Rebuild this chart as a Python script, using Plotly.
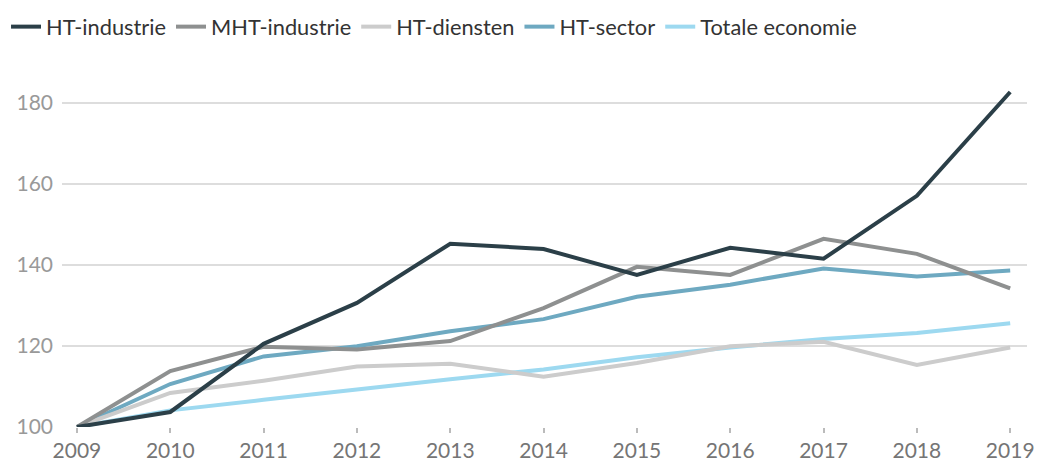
import plotly.graph_objects as go

years = [2009, 2010, 2011, 2012, 2013, 2014, 2015, 2016, 2017, 2018, 2019]
ht_industrie = [100, 103.7, 120.5, 130.6, 145.2, 143.9, 137.5, 144.2, 141.5, 157.0, 182.6]
mht_industrie = [100, 113.8, 119.8, 119.1, 121.2, 129.3, 139.5, 137.5, 146.4, 142.7, 134.2]
ht_diensten = [100, 108.4, 111.4, 114.9, 115.6, 112.4, 115.8, 119.9, 121.0, 115.3, 119.6]
ht_sector = [100, 110.6, 117.4, 119.9, 123.6, 126.6, 132.1, 135.1, 139.1, 137.1, 138.6]
totale_economie = [100, 104.1, 106.7, 109.3, 111.8, 114.2, 117.2, 119.6, 121.7, 123.2, 125.6]

series_names = ["HT-industrie", "MHT-industrie", "HT-diensten", "HT-sector", "Totale economie"]
series_values = [ht_industrie, mht_industrie, ht_diensten, ht_sector, totale_economie]
colors = ["#2b3f48", "#8e9090", "#cccccc", "#6ea9c1", "#9dd9f0"]
y_ticks = [100, 120, 140, 160, 180]

fig = go.Figure()
for name, vals, col in reversed(list(zip(series_names, series_values, colors))):
    fig.add_trace(go.Scatter(x=years, y=vals, name=name, mode="lines",
                             line=dict(color=col, width=4), cliponaxis=False))

fig.update_layout(
    width=1037, height=467,
    margin=dict(l=62, r=10, t=62, b=40, autoexpand=False),
    paper_bgcolor="white", plot_bgcolor="white",
    font=dict(family="Lato", size=21, color="#333333"),
    showlegend=True,
    legend=dict(orientation="h", x=-0.058, xanchor="left", y=1.096, yanchor="middle",
                traceorder="reversed", font=dict(size=21.8, color="#333333"),
                itemwidth=30, tracegroupgap=0),
    xaxis=dict(range=[2008.84, 2019.18], tickvals=years, ticktext=[str(y) for y in years],
               showgrid=False, zeroline=False, showline=False, automargin=False,
               ticks="outside", ticklen=5, tickcolor="#bbbbbb", tickwidth=1.5,
               ticklabeloverflow="allow",
               tickfont=dict(color="#757575", size=21)),
    yaxis=dict(range=[100, 190], tickvals=y_ticks, showgrid=True, gridcolor="#dddddd",
               gridwidth=1.5, zeroline=False, showline=False, automargin=False,
               ticklabelstandoff=8,
               tickfont=dict(color="#999999", size=21)),
)

fig.write_html("out.html", config={"displayModeBar": False},
               post_script="document.body.style.margin='0';document.body.style.overflow='hidden';")
